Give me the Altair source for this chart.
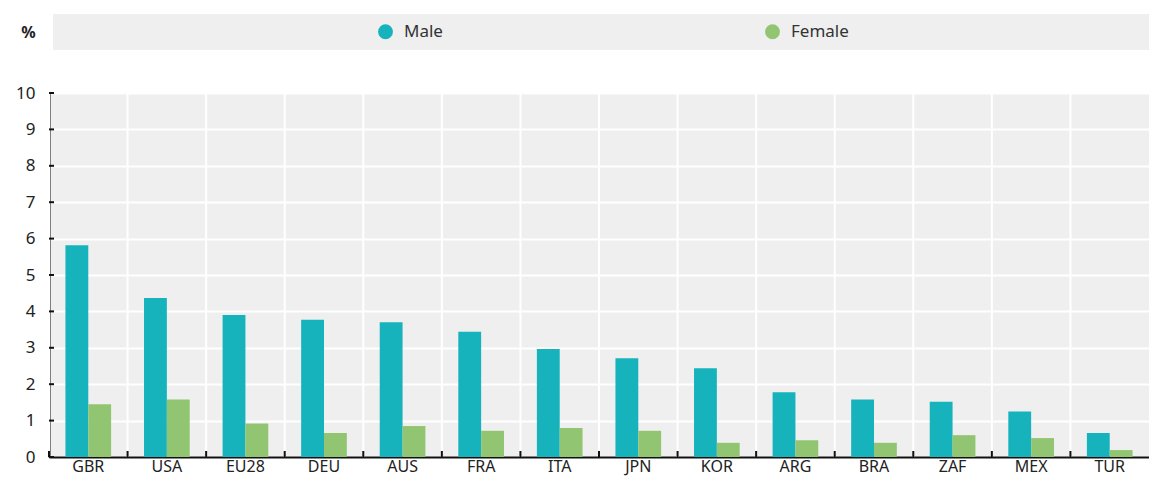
import altair as alt
import pandas as pd

countries = ["GBR", "USA", "EU28", "DEU", "AUS", "FRA", "ITA", "JPN", "KOR", "ARG", "BRA", "ZAF", "MEX", "TUR"]
male = [5.82, 4.37, 3.90, 3.77, 3.70, 3.44, 2.97, 2.71, 2.44, 1.78, 1.58, 1.52, 1.25, 0.66]
female = [1.45, 1.58, 0.92, 0.66, 0.85, 0.72, 0.80, 0.72, 0.39, 0.46, 0.39, 0.60, 0.52, 0.19]
series = ["Male", "Female"]
colors = ["#16b3bc", "#92c572"]
yticks = list(range(0, 11))

rows = []
for c, m, f in zip(countries, male, female):
    rows.append({"country": c, "sex": "Male", "value": m})
    rows.append({"country": c, "sex": "Female", "value": f})
df = pd.DataFrame(rows)
cdf = pd.DataFrame({"country": countries})
tdf = pd.DataFrame({"t": yticks})

FONT = "Noto Sans"
W, H = 1100, 364

xscale = alt.Scale(domain=countries, paddingInner=0, paddingOuter=0)
yscale = alt.Scale(domain=[0, 10], nice=False)

xaxis = alt.Axis(title=None, labelAngle=0, ticks=False, grid=False,
                 bandPosition=0.5, labelAlign="center", labelBaseline="alphabetic",
                 labelFontSize=16, labelColor="#222", labelFont=FONT,
                 labelPadding=14, domainColor="#111", domainWidth=2)
yaxis = alt.Axis(values=yticks, title="%", titleAngle=0,
                 titleX=-21, titleY=-61, titleAlign="center", titleBaseline="middle",
                 titleFontSize=16, titleFontWeight="bold", titleFont=FONT, titleColor="#222",
                 labelFontSize=17, labelColor="#222", labelFont=FONT, labelPadding=14,
                 labelOverlap=False, ticks=False, gridColor="white", gridWidth=2,
                 domainColor="#111", domainWidth=2)

bars = alt.Chart(df).mark_bar(stroke=None).encode(
    x=alt.X("country:N", sort=countries, scale=xscale, axis=xaxis),
    xOffset=alt.XOffset("sex:N", sort=series,
                        scale=alt.Scale(domain=series, paddingInner=0, paddingOuter=0.72)),
    y=alt.Y("value:Q", scale=yscale, axis=yaxis),
    color=alt.Color("sex:N", sort=series,
                    scale=alt.Scale(domain=series, range=colors),
                    legend=alt.Legend(title=None, orient="none", direction="horizontal",
                                      legendX=328, legendY=-70, symbolType="circle",
                                      symbolSize=220, symbolStrokeWidth=0,
                                      labelFontSize=17, labelFont=FONT, labelColor="#333",
                                      columnPadding=321, labelOffset=10)),
)

vgrid = alt.Chart(cdf).mark_rule(color="white", strokeWidth=2).encode(
    x=alt.X("country:N", sort=countries, scale=xscale, bandPosition=0, axis=xaxis),
    y=alt.value(0), y2=alt.value(H),
)

vticks = alt.Chart(cdf).mark_rule(color="#111", strokeWidth=2).encode(
    x=alt.X("country:N", sort=countries, scale=xscale, bandPosition=0, axis=xaxis),
    y=alt.value(H - 6), y2=alt.value(H),
)

yt = alt.Chart(tdf).mark_rule(color="#111", strokeWidth=2).encode(
    y=alt.Y("t:Q", scale=yscale, axis=yaxis),
    x=alt.value(0), x2=alt.value(5),
)

band = alt.Chart(cdf).mark_rect(color="#efefef").encode(
    x=alt.value(4), x2=alt.value(W), y=alt.value(-79), y2=alt.value(-43),
)

chart = alt.layer(band, vgrid, bars, vticks, yt).properties(
    width=W, height=H,
    autosize=alt.AutoSizeParams(type="none"),
    padding={"left": 41, "top": 85, "right": 0, "bottom": 19},
).configure_view(fill="#efefef", stroke=None)

chart.save("out.html", embed_options={"renderer": "svg", "actions": False})
